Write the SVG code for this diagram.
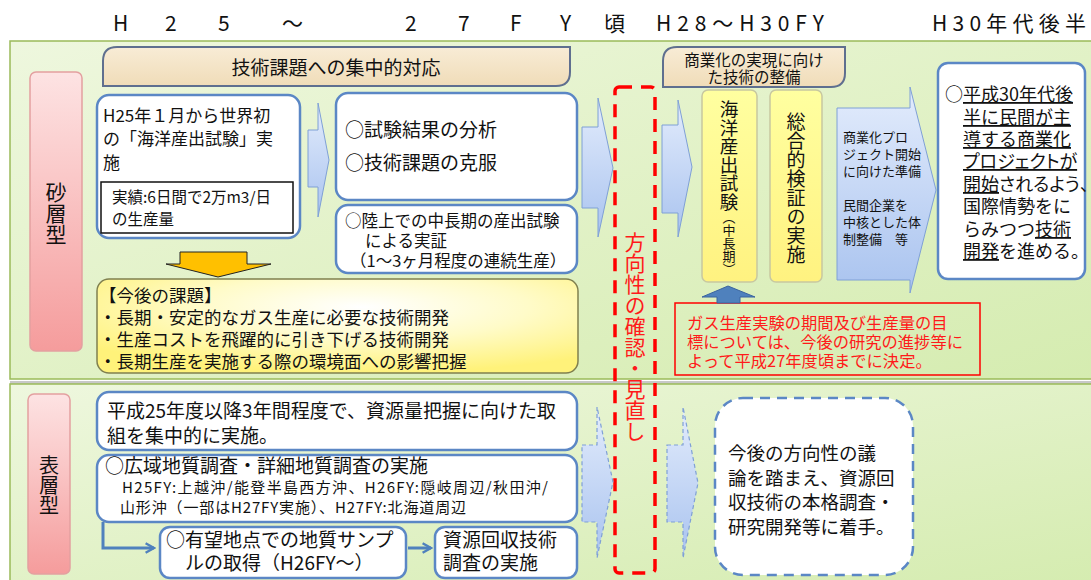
<svg xmlns="http://www.w3.org/2000/svg" width="1091" height="580" viewBox="0 0 1091 580">
<defs>
<linearGradient id="panel" x1="0" y1="0" x2="1" y2="1">
<stop offset="0" stop-color="#eef7de"/><stop offset="1" stop-color="#d5ecb0"/>
</linearGradient>
<linearGradient id="pink" x1="0" y1="0" x2="0" y2="1">
<stop offset="0" stop-color="#fde3e3"/><stop offset="1" stop-color="#f59c9c"/>
</linearGradient>
<linearGradient id="tan" x1="0" y1="0" x2="0" y2="1">
<stop offset="0" stop-color="#f8ecd6"/><stop offset="1" stop-color="#f0dcb8"/>
</linearGradient>
<linearGradient id="barrow" x1="0" y1="0" x2="0" y2="1">
<stop offset="0" stop-color="#e3ecfc"/><stop offset="1" stop-color="#a9c3ef"/>
</linearGradient>
<radialGradient id="yel" cx="0.55" cy="0.3" r="0.7">
<stop offset="0" stop-color="#ffffff"/><stop offset="0.5" stop-color="#fffbc8"/><stop offset="1" stop-color="#fff27a"/>
</radialGradient>
<linearGradient id="vyel" x1="0" y1="0" x2="0" y2="1">
<stop offset="0" stop-color="#ffffa0"/><stop offset="1" stop-color="#fff280"/>
</linearGradient>
<marker id="ah" viewBox="0 0 10 10" refX="8" refY="5" markerWidth="4" markerHeight="4" orient="auto" markerUnits="strokeWidth">
<path d="M1,1 L8,5 L1,9" fill="none" stroke="#4f81bd" stroke-width="2"/>
</marker>
<style>
text{font-family:"Noto Sans CJK JP","Noto Sans",sans-serif;fill:#111;}
.hd{font-size:21px;fill:#111;}
.bx{fill:#fff;stroke:#5b87c5;stroke-width:2.5;}
.tan{fill:url(#tan);stroke:#5f6f8f;stroke-width:2;}
.arr{fill:url(#barrow);stroke:#7fa0d6;stroke-width:1;}
.darr{fill:url(#barrow);stroke:#7fa0d6;stroke-width:1.2;stroke-dasharray:4 3;}
.pk{fill:url(#pink);stroke:#e3a0a0;stroke-width:1.5;}
.vy{fill:url(#vyel);stroke:#c8c8a0;stroke-width:1.5;}
.red{fill:#ff1a1a;}
.vt{writing-mode:vertical-rl;}
.ul{text-decoration:underline;}
.pa{font-feature-settings:"palt";}
</style>
</defs>

<g id="header">
<text class="hd" y="31" x="113">H</text>
<text class="hd" y="31" x="165">2</text>
<text class="hd" y="31" x="218">5</text>
<text class="hd" y="31" x="282">～</text>
<text class="hd" y="31" x="405">2</text>
<text class="hd" y="31" x="458">7</text>
<text class="hd" y="31" x="510">F</text>
<text class="hd" y="31" x="560">Y</text>
<text class="hd" y="31" x="604">頃</text>
<text class="hd" y="31" x="656" textLength="168" lengthAdjust="spacing">H28～H30FY</text>
<text class="hd" y="31" x="932" textLength="154" lengthAdjust="spacing">H30年代後半</text>
</g>

<g id="panels">
<rect x="10" y="41" width="1082" height="338" fill="url(#panel)" stroke="#9bbb59" stroke-width="1.5"/>
<rect x="10" y="381" width="1082" height="3" fill="#c8c8c8"/>
<rect x="10" y="384" width="1082" height="200" fill="url(#panel)" stroke="#9bbb59" stroke-width="1.5"/>
</g>

<g id="sand-label">
<rect class="pk" x="30" y="72" width="52" height="279" rx="6"/>
<text class="vt" x="56" y="182" font-size="21">砂層型</text>
</g>

<g id="tech-header">
<path class="tan" d="M117,47 H570 V72 Q570,86 556,86 H103 V61 Q103,47 117,47 Z"/>
<text x="336" y="75" font-size="19" text-anchor="middle">技術課題への集中的対応</text>
</g>

<g id="box-h25">
<rect class="bx" x="97" y="95" width="203" height="143" rx="12"/>
<text x="103" y="122" font-size="17">H25年１月から世界初</text>
<text x="103" y="145" font-size="17">の「海洋産出試験」実</text>
<text x="103" y="169" font-size="17">施</text>
<rect x="101" y="182" width="192" height="51" fill="#fff" stroke="#111" stroke-width="1.5"/>
<text x="112" y="203" font-size="15.5">実績:6日間で2万m3/日</text>
<text x="112" y="225" font-size="15.5">の生産量</text>
</g>

<g id="box-analysis">
<rect class="bx" x="336" y="93" width="241" height="107" rx="12"/>
<text x="345" y="137" font-size="19">○試験結果の分析</text>
<text x="345" y="170" font-size="19">○技術課題の克服</text>
</g>

<g id="box-land">
<rect class="bx" x="336" y="205" width="241" height="68" rx="12"/>
<text x="345" y="227" font-size="16.5">○陸上での中長期の産出試験</text>
<text x="365" y="247" font-size="16.5">による実証</text>
<text x="350" y="267" font-size="16.5">（1～3ヶ月程度の連続生産）</text>
</g>

<g id="box-issues">
<rect x="97" y="279" width="481" height="94" rx="12" fill="url(#yel)" stroke="#80804f" stroke-width="1.5"/>
<text x="99" y="302" font-size="17.5">【今後の課題】</text>
<text x="99" y="324" font-size="17.5">・長期・安定的なガス生産に必要な技術開発</text>
<text x="99" y="346" font-size="17.5">・生産コストを飛躍的に引き下げる技術開発</text>
<text x="99" y="368" font-size="17.5">・長期生産を実施する際の環境面への影響把握</text>
</g>

<g id="review">
<rect x="615" y="87" width="40" height="486" rx="4" fill="none" stroke="#ff0000" stroke-width="3.5" stroke-dasharray="13 9"/>
<text class="vt red" x="635" y="232" font-size="21">方向性の確認・見直し</text>
</g>

<g id="comm-header">
<path class="tan" d="M677,47 H845 V73 Q845,87 831,87 H663 V61 Q663,47 677,47 Z"/>
<text x="754" y="66" font-size="15.5" text-anchor="middle">商業化の実現に向け</text>
<text x="754" y="83" font-size="15.5" text-anchor="middle">た技術の整備</text>
</g>

<g id="box-offshore">
<rect class="vy" x="702" y="90" width="55" height="192" rx="6"/>
<text class="vt" x="729" y="100" font-size="18.5">海洋産出試験<tspan font-size="13">（中長期）</tspan></text>
</g>

<g id="box-verify">
<rect class="vy" x="770" y="90" width="52" height="192" rx="6"/>
<text class="vt" x="796" y="112" font-size="19">総合的検証の実施</text>
</g>

<g id="arrow-prep">
<polygon class="arr" points="837,108 910,108 910,87 936,190 910,293 910,280 837,280"/>
<text x="843" y="142" font-size="13">商業化プロ</text>
<text x="843" y="159" font-size="13">ジェクト開始</text>
<text x="843" y="176" font-size="13">に向けた準備</text>
<text x="843" y="210" font-size="13">民間企業を</text>
<text x="843" y="227" font-size="13">中核とした体</text>
<text x="843" y="244" font-size="13">制整備　等</text>
</g>

<g id="box-goal">
<rect class="bx" x="938" y="63" width="147" height="216" rx="10"/>
<text x="945" y="101" font-size="18">○<tspan class="ul">平成30年代後</tspan></text>
<text x="963" y="124" font-size="18" class="ul">半に民間が主</text>
<text x="963" y="146" font-size="18" class="ul">導する商業化</text>
<text x="963" y="168" font-size="18" class="ul pa">プロジェクトが</text>
<text x="963" y="191" font-size="18" class="pa"><tspan class="ul">開始</tspan>されるよう、</text>
<text x="963" y="213" font-size="18">国際情勢をに</text>
<text x="963" y="236" font-size="18">らみつつ<tspan class="ul">技術</tspan></text>
<text x="963" y="258" font-size="18"><tspan class="ul">開発</tspan>を進める。</text>
</g>

<g id="note-red">
<rect x="675" y="303" width="305" height="72" fill="none" stroke="#ff0000" stroke-width="1.5"/>
<text class="red" x="687" y="329" font-size="16.3">ガス生産実験の期間及び生産量の目</text>
<text class="red" x="687" y="348" font-size="16.3">標については、今後の研究の進捗等に</text>
<text class="red" x="687" y="367" font-size="16.3">よって平成27年度頃までに決定。</text>
</g>

<g id="surface-label">
<rect class="pk" x="28" y="394" width="42" height="180" rx="6"/>
<text class="vt" x="49" y="455" font-size="20">表層型</text>
</g>

<g id="box-resource">
<rect class="bx" x="97" y="392" width="480" height="58" rx="12"/>
<text x="107" y="418" font-size="19">平成25年度以降3年間程度で、資源量把握に向けた取</text>
<text x="107" y="443" font-size="19">組を集中的に実施。</text>
</g>

<g id="box-survey">
<rect class="bx" x="97" y="455" width="480" height="67" rx="12"/>
<text x="105" y="473" font-size="19">○広域地質調査・詳細地質調査の実施</text>
<text x="122" y="493" font-size="15" textLength="426" lengthAdjust="spacing">H25FY:上越沖/能登半島西方沖、H26FY:隠岐周辺/秋田沖/</text>
<text x="120" y="513" font-size="15" textLength="346" lengthAdjust="spacing">山形沖（一部はH27FY実施）、H27FY:北海道周辺</text>
</g>

<g id="box-sample">
<rect class="bx" x="160" y="527" width="246" height="51" rx="10"/>
<text x="166" y="547" font-size="19">○有望地点での地質サンプ</text>
<text x="185" y="570" font-size="19">ルの取得（H26FY～）</text>
</g>

<g id="box-recovery">
<rect class="bx" x="435" y="527" width="142" height="51" rx="10"/>
<text x="443" y="547" font-size="19">資源回収技術</text>
<text x="443" y="570" font-size="19">調査の実施</text>
</g>

<g id="box-future">
<rect x="715" y="398" width="198" height="177" rx="28" fill="#fff" stroke="#5b87c5" stroke-width="2.5" stroke-dasharray="10 7"/>
<text x="728" y="460" font-size="18.5">今後の方向性の議</text>
<text x="728" y="485" font-size="18.5">論を踏まえ、資源回</text>
<text x="728" y="509" font-size="18.5">収技術の本格調査・</text>
<text x="728" y="534" font-size="18.5">研究開発等に着手。</text>
</g>

<g id="connectors">
<polygon class="arr" points="308,130 318,130 318,103 329,160 318,217 318,187 308,187"/>
<polygon points="180,252 247,252 247,264 271,264 218,277 166,264 180,264" fill="#ffc000" stroke="#222" stroke-width="1"/>
<polygon class="arr" points="582,127 598,127 598,98 613,168 598,237 598,208 582,208"/>
<polygon class="arr" points="662,125 678,125 678,100 692,167 678,237 678,213 662,213"/>
<polygon points="717,303 717,297 702,297 728,286 755,297 740,297 740,303" fill="#4f81bd" stroke="#3a64a0" stroke-width="1"/>
<polygon class="darr" points="582,445 597,445 597,407 613,482 597,558 597,522 582,522"/>
<polygon class="darr" points="667,445 683,445 683,407 698,483 683,558 683,522 667,522"/>
<path d="M103,522 V548 H154" fill="none" stroke="#4f81bd" stroke-width="3" marker-end="url(#ah)"/>
<path d="M408,548 H431" fill="none" stroke="#4f81bd" stroke-width="3" marker-end="url(#ah)"/>
</g>
</svg>
